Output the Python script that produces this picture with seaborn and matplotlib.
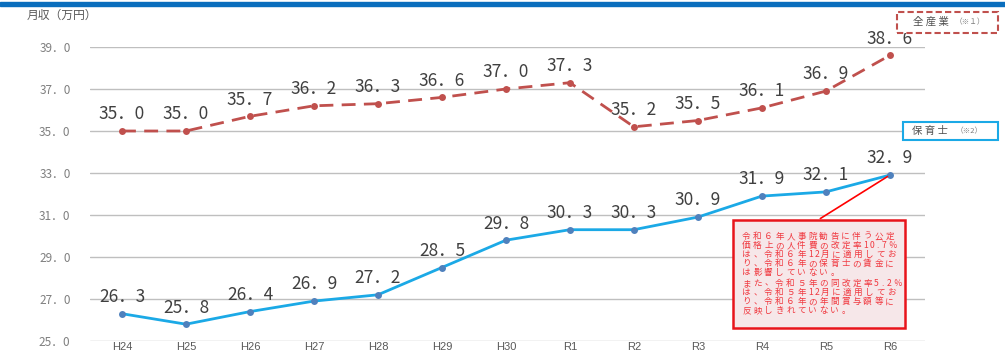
import numpy as np
import pandas as pd
import matplotlib.pyplot as plt
import seaborn as sns
from matplotlib.patches import Rectangle

# Data
years = ["H24", "H25", "H26", "H27", "H28", "H29", "H30", "R1", "R2", "R3", "R4", "R5", "R6"]
all_industry = [35.0, 35.0, 35.7, 36.2, 36.3, 36.6, 37.0, 37.3, 35.2, 35.5, 36.1, 36.9, 38.6]
childcare = [26.3, 25.8, 26.4, 26.9, 27.2, 28.5, 29.8, 30.3, 30.3, 30.9, 31.9, 32.1, 32.9]
y_ticks = [25, 27, 29, 31, 33, 35, 37, 39]

note_1 = ["令和６年人事院勧告に伴う公定",
          "価格上の人件費の改定率10.7％",
          "は、令和６年12月に適用してお",
          "り、令和６年の保育士の賃金に",
          "は影響していない。"]
note_2 = ["また、令和５年の同改定率5.2％",
          "は、令和５年12月に適用してお",
          "り、令和６年の年間賞与額等に",
          "反映しきれていない。"]

sns.set_style("white")
plt.rcParams['font.family'] = ['Noto Sans CJK JP', 'DejaVu Sans']

df = pd.DataFrame({"pos": np.arange(len(years)), "all": all_industry, "care": childcare})

fig = plt.figure(figsize=(10.05, 3.57), dpi=100)
W, H = 1005, 357
ax = fig.add_axes([90 / W, 1 - 341 / H, 835 / W, 294 / H])

red = "#C0504D"
blue = "#1BA9E6"

sns.lineplot(data=df, x="pos", y="all", ax=ax, color=red, linewidth=2.0,
             marker="o", markersize=5, markeredgewidth=0, clip_on=False)
ax.lines[-1].set_dashes([5, 3])
sns.lineplot(data=df, x="pos", y="care", ax=ax, color=blue, linewidth=2.0,
             marker="o", markersize=5, markerfacecolor="#4F81BD",
             markeredgewidth=0, clip_on=False)

# value labels
for i in range(len(years)):
    ax.annotate(f"{all_industry[i]:.1f}".replace(".", "．"), (i, all_industry[i]),
                xytext=(0, 12), textcoords="offset points", ha="center", va="center",
                fontsize=12.5, color="#404040", annotation_clip=False)
    ax.annotate(f"{childcare[i]:.1f}".replace(".", "．"), (i, childcare[i]),
                xytext=(0, 12), textcoords="offset points", ha="center", va="center",
                fontsize=12.5, color="#404040", annotation_clip=False)

ax.set_xlim(-0.5, 12.55)
ax.set_ylim(25, 39)
ax.set_xticks(range(len(years)))
ax.set_xticklabels(years)
ax.set_yticks(y_ticks)
ax.set_yticklabels([f"{v:.1f}".replace(".", "．") for v in y_ticks])
ax.tick_params(axis="y", length=0, pad=14, labelsize=8.5, labelcolor="#7F7F7F")
ax.tick_params(axis="x", length=0, pad=1, labelsize=8, labelcolor="#595959")
for lbl in ax.get_xticklabels():
    lbl.set_fontfamily("Liberation Sans")
ax.grid(axis="y", color="#BFBFBF", linewidth=1)
ax.set_axisbelow(True)
for s in ax.spines.values():
    s.set_visible(False)
ax.set_xlabel("")
ax.set_ylabel("")

# top bar and unit label
fig.patches.append(Rectangle((0, 1 - 6 / H), 1, 4 / H, transform=fig.transFigure,
                             color="#0A6EBD", zorder=5))
fig.text(27 / W, 1 - 15 / H, "月収（万円）", fontsize=8.5, color="#595959", va="center")

# series boxes
fig.patches.append(Rectangle((897 / W, 1 - 33 / H), 101 / W, 21 / H, transform=fig.transFigure,
                             facecolor="white", edgecolor=red, linestyle=(0, (3, 1.5)),
                             linewidth=1.5, zorder=5))
fig.text(931 / W, 1 - 22 / H, "全 産 業", fontsize=7.5, color="#505050", ha="center", va="center", zorder=6)
fig.text(970 / W, 1 - 22 / H, "（※１）", fontsize=5.5, color="#7F7F7F", ha="center", va="center", zorder=6)
fig.patches.append(Rectangle((903 / W, 1 - 140 / H), 95 / W, 18 / H, transform=fig.transFigure,
                             facecolor="white", edgecolor="#1BA9E6", linewidth=1.5, zorder=5))
fig.text(930 / W, 1 - 131 / H, "保 育 士", fontsize=7.5, color="#505050", ha="center", va="center", zorder=6)
fig.text(969 / W, 1 - 131 / H, "（※2）", fontsize=5.5, color="#7F7F7F", ha="center", va="center", zorder=6)

# note box with leader line to R6
box_x0, box_y0, box_x1, box_y1 = 733, 220, 905, 328
fig.patches.append(Rectangle((box_x0 / W, 1 - box_y1 / H), (box_x1 - box_x0) / W,
                             (box_y1 - box_y0) / H, transform=fig.transFigure,
                             facecolor="#F6E7E9", edgecolor="#E8141B", linewidth=1.8, zorder=5))
ax.annotate("", xy=(12, childcare[-1]), xycoords="data",
            xytext=(818 / W, 1 - box_y0 / H), textcoords="figure fraction",
            arrowprops=dict(arrowstyle="-", color="#FF0000", linewidth=1.2), annotation_clip=False)


def spaced_lines(lines, x0, y0, pitch=9.1):
    # the note is letter-spaced, so place glyphs one by one
    for r, line in enumerate(lines):
        x = x0
        for ch in line:
            half = ch.isascii()
            fig.text((x + (3.2 if half else 5.5)) / W, 1 - (y0 + r * pitch) / H, ch,
                     fontsize=6.2, color="#F0383F", ha="center", va="center", zorder=6)
            x += 6.4 if half else 11.0


spaced_lines(note_1, 741, 236.5)
spaced_lines(note_2, 741, 283.5)

fig.savefig("out.png", dpi=100)
